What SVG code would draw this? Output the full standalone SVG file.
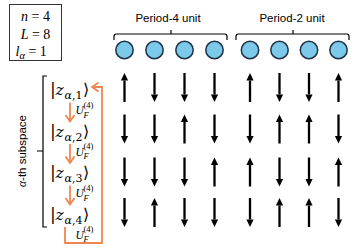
<svg xmlns="http://www.w3.org/2000/svg" xmlns:xlink="http://www.w3.org/1999/xlink" width="355" height="248" viewBox="0 0 355 248">
<style>
.math{font-family:"Liberation Serif","DejaVu Serif",serif;fill:#000}
.km{font-family:"DejaVu Serif","Liberation Serif",serif;fill:#000}
.it{font-style:italic}
.lab{font-family:"Liberation Sans",Arial,sans-serif;font-size:11.5px;fill:#000}
.site{fill:#7DC9E9;stroke:#1D3347;stroke-width:1.5}
.brace{fill:none;stroke:#000;stroke-width:1.2}
.orange{fill:none;stroke:#EF8650;stroke-width:1.8}
.spin{stroke:#000;stroke-width:2.3}
.ang{font-family:"DejaVu Sans",sans-serif}
</style>
<defs>
<marker id="oa" markerUnits="userSpaceOnUse" markerWidth="12" markerHeight="12" refX="8" refY="6" orient="auto">
<path d="M1.5,1.5 L8,6 L1.5,10.5" fill="none" stroke="#EF8650" stroke-width="1.8"/>
</marker>
<g id="up"><line class="spin" x1="0" y1="14.5" x2="0" y2="-7"/><path d="M-3.6,-7 L0,-14.5 L3.6,-7 Z" fill="#000"/></g>
<g id="dn"><use xlink:href="#up" href="#up" transform="rotate(180)"/></g>
</defs>
<rect width="355" height="248" fill="#fff"/>

<g id="params">
<rect x="9.5" y="4.5" width="52" height="56" fill="#fff" stroke="#333" stroke-width="1"/>
<text class="math" font-size="14" x="35.5" y="20.5" text-anchor="middle"><tspan class="it">n</tspan> = 4</text>
<text class="math" font-size="14" x="35.5" y="38.5" text-anchor="middle"><tspan class="it">L</tspan> = 8</text>
<text class="math" font-size="14" x="15.5" y="55.5"><tspan class="it">l</tspan><tspan class="it" font-size="10.5" dy="3">α</tspan><tspan dy="-3"> = 1</tspan></text>
</g>

<g id="period4">
<text class="lab" x="168" y="22" text-anchor="middle">Period-4 unit</text>
<path class="brace" d="M114,40 V36.5 Q114,34 116.5,34 H225 Q227,34 227,36.5 V40 M171,34 V30"/>
<circle class="site" cx="124.5" cy="50" r="8.7"/>
<circle class="site" cx="154.5" cy="50" r="8.7"/>
<circle class="site" cx="184.5" cy="50" r="8.7"/>
<circle class="site" cx="214.5" cy="50" r="8.7"/>
</g>
<g id="period2">
<text class="lab" x="292" y="22" text-anchor="middle">Period-2 unit</text>
<path class="brace" d="M236,40 V36.5 Q236,34 238.5,34 H347 Q349,34 349,36.5 V40 M293,34 V30"/>
<circle class="site" cx="250" cy="50" r="8.7"/>
<circle class="site" cx="279.5" cy="50" r="8.7"/>
<circle class="site" cx="309" cy="50" r="8.7"/>
<circle class="site" cx="338.5" cy="50" r="8.7"/>
</g>

<g id="subspace">
<text class="lab" font-size="13" transform="translate(25.5,151) rotate(-90)" text-anchor="middle"><tspan class="math it">α</tspan>-th subspace</text>
<path class="brace" d="M47,76 H43 V227 H47 M43,151 H37"/>
</g>

<g id="kets">
<g id="ket1"><text class="km" font-size="17" x="50" y="95">|</text><text class="km it" font-size="15.5" x="55.5" y="95">z</text><text class="km" font-size="11" x="64.5" y="99"><tspan class="it">α</tspan>,1</text><text class="ang" font-size="16" x="83" y="95">⟩</text></g>
<g id="ket2"><text class="km" font-size="17" x="50" y="136.5">|</text><text class="km it" font-size="15.5" x="55.5" y="136.5">z</text><text class="km" font-size="11" x="64.5" y="140.5"><tspan class="it">α</tspan>,2</text><text class="ang" font-size="16" x="83" y="136.5">⟩</text></g>
<g id="ket3"><text class="km" font-size="17" x="50" y="178">|</text><text class="km it" font-size="15.5" x="55.5" y="178">z</text><text class="km" font-size="11" x="64.5" y="182"><tspan class="it">α</tspan>,3</text><text class="ang" font-size="16" x="83" y="178">⟩</text></g>
<g id="ket4"><text class="km" font-size="17" x="50" y="219.5">|</text><text class="km it" font-size="15.5" x="55.5" y="219.5">z</text><text class="km" font-size="11" x="64.5" y="223.5"><tspan class="it">α</tspan>,4</text><text class="ang" font-size="16" x="83" y="219.5">⟩</text></g>
</g>

<g id="connectors">
<line class="orange" x1="70" y1="102.5" x2="70" y2="121.5" marker-end="url(#oa)"/>
<line class="orange" x1="70" y1="144" x2="70" y2="163" marker-end="url(#oa)"/>
<line class="orange" x1="70" y1="185.5" x2="70" y2="204.5" marker-end="url(#oa)"/>
<path class="orange" d="M65,227 V243 H102 V87 H92" marker-end="url(#oa)"/>
</g>

<g id="ops" class="math">
<g><text class="it" font-size="11.5" x="75.5" y="114">U</text><text font-size="8.5" x="83.5" y="107.5">(4)</text><text class="it" font-size="8.5" x="83.5" y="117.5">F</text></g>
<g><text class="it" font-size="11.5" x="75.5" y="155.5">U</text><text font-size="8.5" x="83.5" y="149">(4)</text><text class="it" font-size="8.5" x="83.5" y="159">F</text></g>
<g><text class="it" font-size="11.5" x="75.5" y="197">U</text><text font-size="8.5" x="83.5" y="190.5">(4)</text><text class="it" font-size="8.5" x="83.5" y="200.5">F</text></g>
<g><text class="it" font-size="11.5" x="75.5" y="238.5">U</text><text font-size="8.5" x="83.5" y="232">(4)</text><text class="it" font-size="8.5" x="83.5" y="242">F</text></g>
</g>

<g id="spins">
<use href="#up" xlink:href="#up" x="124.5" y="87.5"/><use href="#dn" xlink:href="#dn" x="154.5" y="87.5"/><use href="#dn" xlink:href="#dn" x="184.5" y="87.5"/><use href="#dn" xlink:href="#dn" x="214.5" y="87.5"/>
<use href="#up" xlink:href="#up" x="250" y="87.5"/><use href="#dn" xlink:href="#dn" x="279.5" y="87.5"/><use href="#dn" xlink:href="#dn" x="309" y="87.5"/><use href="#up" xlink:href="#up" x="338.5" y="87.5"/>

<use href="#dn" xlink:href="#dn" x="124.5" y="129"/><use href="#dn" xlink:href="#dn" x="154.5" y="129"/><use href="#up" xlink:href="#up" x="184.5" y="129"/><use href="#dn" xlink:href="#dn" x="214.5" y="129"/>
<use href="#dn" xlink:href="#dn" x="250" y="129"/><use href="#up" xlink:href="#up" x="279.5" y="129"/><use href="#up" xlink:href="#up" x="309" y="129"/><use href="#dn" xlink:href="#dn" x="338.5" y="129"/>

<use href="#dn" xlink:href="#dn" x="124.5" y="172"/><use href="#dn" xlink:href="#dn" x="154.5" y="172"/><use href="#dn" xlink:href="#dn" x="184.5" y="172"/><use href="#up" xlink:href="#up" x="214.5" y="172"/>
<use href="#up" xlink:href="#up" x="250" y="172"/><use href="#dn" xlink:href="#dn" x="279.5" y="172"/><use href="#dn" xlink:href="#dn" x="309" y="172"/><use href="#up" xlink:href="#up" x="338.5" y="172"/>

<use href="#dn" xlink:href="#dn" x="124.5" y="212.5"/><use href="#up" xlink:href="#up" x="154.5" y="212.5"/><use href="#dn" xlink:href="#dn" x="184.5" y="212.5"/><use href="#dn" xlink:href="#dn" x="214.5" y="212.5"/>
<use href="#dn" xlink:href="#dn" x="250" y="212.5"/><use href="#up" xlink:href="#up" x="279.5" y="212.5"/><use href="#up" xlink:href="#up" x="309" y="212.5"/><use href="#dn" xlink:href="#dn" x="338.5" y="212.5"/>
</g>
</svg>
